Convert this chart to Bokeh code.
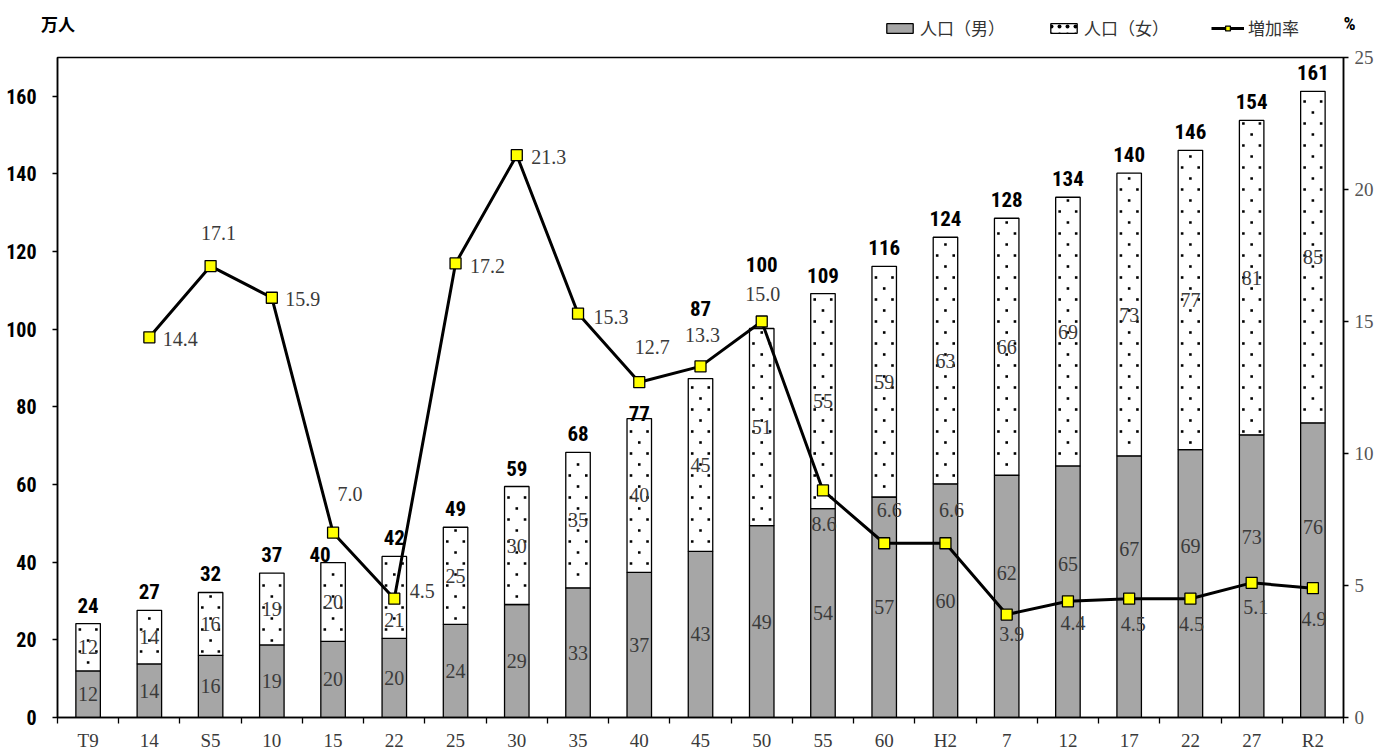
import math
from bokeh.plotting import figure
from bokeh.layouts import column
from bokeh.models import (Range1d, LinearAxis, FixedTicker, ColumnDataSource,
                          Legend, LegendItem, Label)
from bokeh.core.properties import value
from bokeh.embed import file_html
from bokeh.resources import INLINE

# ---------------- data ----------------
periods = ["T9", "14", "S5", "10", "15", "22", "25", "30", "35", "40", "45",
           "50", "55", "60", "H2", "7", "12", "17", "22", "27", "R2"]
male = [12.0, 13.8, 16.0, 18.7, 19.6, 20.4, 24.0, 29.1, 33.4, 37.4, 42.8,
        49.4, 53.8, 56.8, 60.2, 62.4, 64.8, 67.4, 69.0, 72.8, 75.9]
female = [12.2, 13.8, 16.2, 18.5, 20.3, 21.1, 25.0, 30.4, 34.9, 39.6, 44.5,
          50.8, 55.4, 59.4, 63.5, 66.2, 69.2, 72.8, 77.1, 81.0, 85.4]
male_lbl = ["12", "14", "16", "19", "20", "20", "24", "29", "33", "37", "43",
            "49", "54", "57", "60", "62", "65", "67", "69", "73", "76"]
female_lbl = ["12", "14", "16", "19", "20", "21", "25", "30", "35", "40", "45",
              "51", "55", "59", "63", "66", "69", "73", "77", "81", "85"]
total_lbl = ["24", "27", "32", "37", "40", "42", "49", "59", "68", "77", "87",
             "100", "109", "116", "124", "128", "134", "140", "146", "154", "161"]
rate = [math.nan, 14.4, 17.1, 15.9, 7.0, 4.5, 17.2, 21.3, 15.3, 12.7, 13.3,
        15.0, 8.6, 6.6, 6.6, 3.9, 4.4, 4.5, 4.5, 5.1, 4.9]
rate_lbl = ["", "14.4", "17.1", "15.9", "7.0", "4.5", "17.2", "21.3", "15.3", "12.7", "13.3",
            "15.0", "8.6", "6.6", "6.6", "3.9", "4.4", "4.5", "4.5", "5.1", "4.9"]
legend_labels = ["人口（男）", "人口（女）", "増加率"]
unit_left = "万人"
unit_right = "%"

# ---------------- label placement (styling, pixels) ----------------
rate_dx = [0, 31, 8, 31, 17, 28, 32, 32, 33, 13, 2, 1, 1, 5, 6, 5, 5, 4, 1, 4, 1]
rate_dy = [0, 2, -33, 1, -39, -8, 3, 2, 3, -35, -31, -28, 34, -33, -33, 19, 22, 25, 25, 24, 31]
male_dy = [0] * 15 + [-23, -28, -38, -38, -39, -43]
female_dy = [0, 0, 0, 0, 0, 23] + [0] * 15
total_dx = [0, 0, 0, 0, -13] + [0] * 16
total_dy = [0, 0, 0, 0, 10, 0, 0, 0, 0, 13, -52, -45] + [0] * 9

xs = list(range(len(periods)))
tops = [m + f for m, f in zip(male, female)]

src = ColumnDataSource(dict(
    x=xs, male=male, female=female, top=tops,
    male_mid=[m / 2 for m in male],
    female_mid=[m + f / 2 for m, f in zip(male, female)],
    male_lbl=male_lbl, female_lbl=female_lbl, total_lbl=total_lbl,
    male_dy=male_dy, female_dy=female_dy,
    total_dx=total_dx, total_dy=[d - 11 for d in total_dy],
    rate=rate, rate_lbl=rate_lbl, rate_dx=rate_dx, rate_dy=rate_dy,
))

# ---------------- geometry / styles ----------------
W = 1386
HEAD_H = 44
MAIN_H = 753 - HEAD_H
Y_MAX = 170
FRAME_PX = 660                       # frame height in pixels
BAR_W = 0.4

SERIF_S = "Liberation Serif"
NARROW_S = "Roboto Condensed, Roboto"
CJK_S = "Noto Sans CJK JP"
SERIF = value(SERIF_S)
NARROW = value(NARROW_S)

MALE_STYLE = dict(fill_color="#a6a6a6", line_color="black", line_width=1.3)
FEMALE_STYLE = dict(fill_color="white", line_color="black", line_width=1.3)
LINE_STYLE = dict(line_color="black", line_width=3)
MARK_STYLE = dict(marker="square", size=11, fill_color="#ffff00", line_color="black", line_width=1.3)

# sparse staggered dot texture for the female segments (Excel "5%" pattern look)
row_step = 11 * Y_MAX / FRAME_PX     # 11 px between dot rows
edge = 2.5 * Y_MAX / FRAME_PX
col_off = 0.135
dot_x, dot_y = [], []
for i, (lo, hi) in enumerate(zip(male, tops)):
    k = math.ceil((lo + edge) / row_step)
    while k * row_step < hi - edge:
        yk = k * row_step
        if k % 2 == 0:
            dot_x += [i - col_off, i + col_off]
            dot_y += [yk, yk]
        else:
            dot_x.append(i)
            dot_y.append(yk)
        k += 1


def no_frame_align(fig):
    try:
        fig.frame_align = False
    except Exception:
        pass


# ---------------- header (legend + units) ----------------
head = figure(width=W, height=HEAD_H, x_range=Range1d(0, W), y_range=Range1d(0, HEAD_H),
              x_axis_type=None, y_axis_type=None, output_backend="svg",
              toolbar_location=None, min_border=0, outline_line_color=None)
no_frame_align(head)
head.xgrid.visible = False
head.ygrid.visible = False
# hidden copies of the series, used only to draw the legend keys
h_m = head.vbar(x="x", top="male", width=BAR_W, source=src, visible=False, **MALE_STYLE)
h_f = head.vbar(x="x", bottom="male", top="top", width=BAR_W, source=src, visible=False,
                hatch_pattern="dot", hatch_color="black", hatch_scale=8, hatch_weight=0.2,
                **FEMALE_STYLE)
h_l = head.line(x="x", y="rate", source=src, visible=False, **LINE_STYLE)
h_s = head.scatter(x="x", y="rate", source=src, visible=False, **MARK_STYLE)
legend = Legend(items=[
    LegendItem(label=legend_labels[0], renderers=[h_m]),
    LegendItem(label=legend_labels[1], renderers=[h_f]),
    LegendItem(label=legend_labels[2], renderers=[h_l, h_s]),
], location=(883, 4), orientation="horizontal",
    glyph_width=33, glyph_height=12, label_standoff=4, spacing=42, padding=0, margin=0,
    border_line_color=None, background_fill_alpha=0, inactive_fill_alpha=0,
    label_text_font=CJK_S, label_text_font_size="17px", label_text_color="#333333")
head.add_layout(legend)
head.add_layout(Label(x=57.5, y=HEAD_H - 23, text=unit_left,
                      text_align="center", text_baseline="middle", text_font=CJK_S,
                      text_font_style="bold", text_font_size="17px", text_color="black"))
head.add_layout(Label(x=1349, y=HEAD_H - 23, text=unit_right,
                      text_align="center", text_baseline="middle", text_font=NARROW_S,
                      text_font_style="bold", text_font_size="19px", text_color="black"))

# ---------------- main chart ----------------
p = figure(width=W, height=MAIN_H, x_range=Range1d(-0.5, 20.5), y_range=Range1d(0, Y_MAX),
           output_backend="svg", toolbar_location=None,
           min_border_left=57, min_border_right=W - 1343, min_border_top=57 - HEAD_H,
           min_border_bottom=36)
no_frame_align(p)
p.extra_y_ranges = {"rate": Range1d(0, 25)}
p.xgrid.visible = False
p.ygrid.visible = False
p.outline_line_color = "black"
p.outline_line_width = 1.5
p.background_fill_color = "white"
p.border_fill_color = "white"

r_m = p.vbar(x="x", bottom=0, top="male", width=BAR_W, source=src, **MALE_STYLE)
r_f = p.vbar(x="x", bottom="male", top="top", width=BAR_W, source=src, **FEMALE_STYLE)
p.scatter(x=dot_x, y=dot_y, marker="square", size=2.6, fill_color="black", line_color=None)

p.text(x="x", y="male_mid", text="male_lbl", y_offset="male_dy", source=src,
       text_align="center", text_baseline="middle", text_font=SERIF,
       text_font_size="20px", text_color="#3a3a3a")
p.text(x="x", y="female_mid", text="female_lbl", y_offset="female_dy", source=src,
       text_align="center", text_baseline="middle", text_font=SERIF,
       text_font_size="20px", text_color="#3a3a3a")
p.text(x="x", y="top", text="total_lbl", x_offset="total_dx", y_offset="total_dy", source=src,
       text_align="center", text_baseline="bottom", text_font=NARROW,
       text_font_style="bold", text_font_size="21px", text_color="black")

r_l = p.line(x="x", y="rate", source=src, y_range_name="rate", **LINE_STYLE)
r_s = p.scatter(x="x", y="rate", source=src, y_range_name="rate", **MARK_STYLE)
p.text(x="x", y="rate", text="rate_lbl", x_offset="rate_dx", y_offset="rate_dy", source=src,
       y_range_name="rate", text_align="center", text_baseline="middle",
       text_font=SERIF, text_font_size="20px", text_color="#3a3a3a")

xa = p.xaxis[0]
xa.ticker = FixedTicker(ticks=xs, minor_ticks=[i - 0.5 for i in range(len(periods) + 1)])
xa.major_label_overrides = {i: lab for i, lab in enumerate(periods)}
xa.major_tick_out = 0
xa.major_tick_in = 0
xa.minor_tick_out = 6
xa.minor_tick_in = 0
xa.minor_tick_line_color = "black"
xa.minor_tick_line_width = 1.3
xa.axis_line_color = "black"
xa.axis_line_width = 1.5
xa.major_label_standoff = 6
xa.major_label_text_font = SERIF_S
xa.major_label_text_font_size = "19px"
xa.major_label_text_color = "#3a3a3a"

ya = p.yaxis[0]
ya.ticker = FixedTicker(ticks=list(range(0, 161, 20)))
ya.major_tick_out = 5
ya.major_tick_in = 0
ya.minor_tick_out = 0
ya.minor_tick_in = 0
ya.axis_line_color = "black"
ya.axis_line_width = 1.5
ya.major_tick_line_width = 1.3
ya.major_label_standoff = 16
ya.major_label_text_font = NARROW_S
ya.major_label_text_font_style = "bold"
ya.major_label_text_font_size = "20px"
ya.major_label_text_color = "black"

ra = LinearAxis(y_range_name="rate", ticker=FixedTicker(ticks=[0, 5, 10, 15, 20, 25]))
ra.major_tick_out = 5
ra.major_tick_in = 0
ra.minor_tick_out = 0
ra.minor_tick_in = 0
ra.axis_line_color = "black"
ra.axis_line_width = 1.5
ra.major_tick_line_width = 1.3
ra.major_label_standoff = 6
ra.major_label_text_font = SERIF_S
ra.major_label_text_font_size = "19px"
ra.major_label_text_color = "#555555"
p.add_layout(ra, "right")

layout = column(head, p, spacing=0)
open("out.html", "w").write(file_html(layout, INLINE))
